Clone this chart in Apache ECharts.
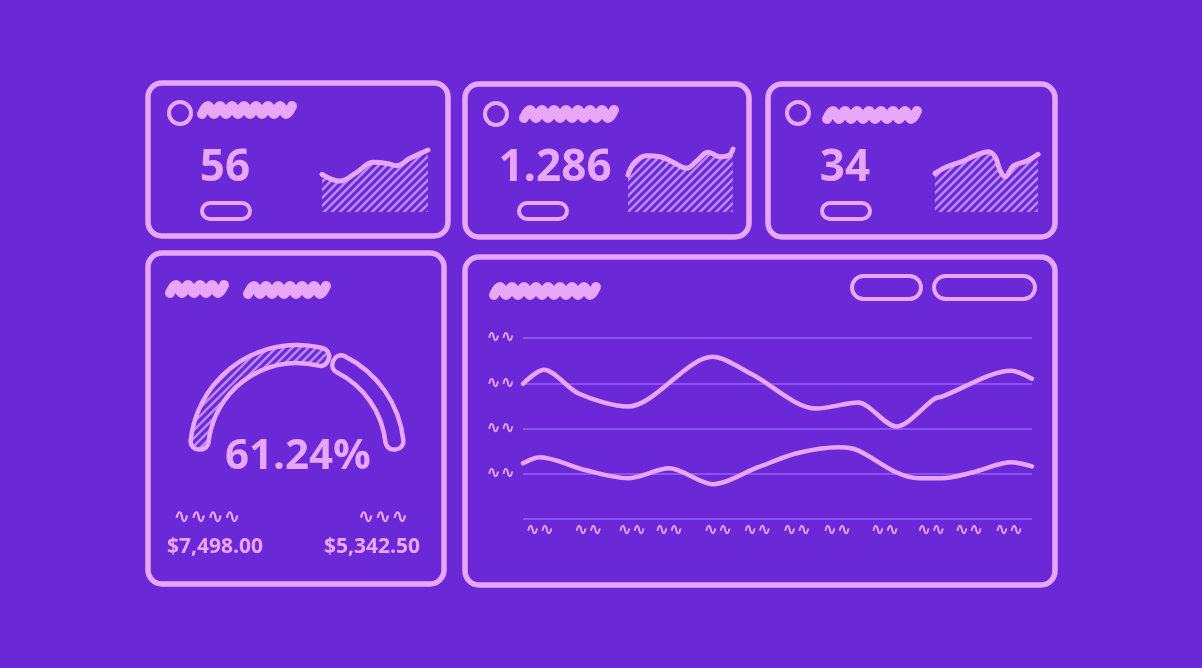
<!DOCTYPE html>
<html><head><meta charset="utf-8">
<script src="https://cdn.jsdelivr.net/npm/echarts@6/dist/echarts.min.js"></script>
<style>html,body{margin:0;padding:0;background:#6A28D6;}#c{width:1202px;height:668px;}</style>
</head><body><div id="c"></div>
<script>
// ---- data ----
const kpiValues = ['56', '1.286', '34'];
const spark1X = [0, 17, 32.7, 48.4, 62.5, 70.5, 83, 100];
const spark1Y = [58.9, 48.4, 62, 77.7, 75.5, 72.3, 83.9, 96.9];
const spark2X = [0, 6.4, 17.8, 30.5, 43.1, 55.9, 65.4, 76.5, 87.6, 95.5, 100];
const spark2Y = [57.8, 77.6, 88, 86.4, 77.6, 68.3, 79.7, 93.3, 86.4, 88, 98.4];
const spark3X = [0, 11.3, 27.5, 40.5, 51.8, 58.3, 63.1, 68, 76.1, 89.1, 100];
const spark3Y = [60.5, 70.8, 79.7, 89.1, 94.2, 86.4, 65.6, 55.2, 72.3, 79.7, 90.2];
const gaugeValue = 61.24;
const amounts = ['$7,498.00', '$5,342.50'];
const mainX1 = [0, 4.1, 11, 20.6, 37.3, 44.8, 57.6, 65.8, 73.3, 80.9, 82.3, 95.9, 100];
const mainY1 = [74.7, 82.4, 69.2, 62.1, 89.6, 80.2, 61.0, 64.3, 51.1, 66.5, 67.6, 81.9, 77.5];
const mainX2 = [0, 3.3, 12.4, 20.6, 28.7, 37.3, 46.2, 53.8, 62.1, 65.8, 73.3, 77.8, 82.3, 88.4, 95.9, 100];
const mainY2 = [30.8, 34.1, 26.9, 22.5, 28.0, 19.2, 28.6, 36.3, 39.6, 37.9, 25.8, 22.5, 22.5, 25.8, 31.3, 29.1];
const xTickPos = [3.3, 12.8, 21.4, 28.7, 38.3, 46, 53.8, 61.7, 71.1, 80.2, 87.6, 95.5];
const xTickLabels = ['∿∿', '∿∿', '∿∿', '∿∿', '∿∿', '∿∿', '∿∿', '∿∿', '∿∿', '∿∿', '∿∿', '∿∿'];
const yTickLabels = ['', '∿∿', '∿∿', '∿∿', '∿∿'];

// ---- style ----
const BG = '#6A28D6', PINK = '#E8A6F7', GRIDC = '#8A52F2';
function hatch() {
  const c = document.createElement('canvas'); c.width = c.height = 8;
  const g = c.getContext('2d'); g.strokeStyle = '#B98AF6'; g.lineWidth = 2.6; g.lineCap = 'square';
  g.beginPath(); g.moveTo(0, 8); g.lineTo(8, 0); g.moveTo(-2, 2); g.lineTo(2, -2); g.moveTo(6, 10); g.lineTo(10, 6); g.stroke();
  return c;
}
const pattern = { image: hatch(), repeat: 'repeat' };
const zip = (a, b) => a.map((v, i) => [v, b[i]]);

function scribble(x0, x1, y, amp, step) {
  const pts = []; let k = 0;
  for (let x = x0; x <= x1; x += step, k++) pts.push([x, y + (k % 2 ? -amp : amp)]);
  return { type: 'polyline', silent: true, shape: { points: pts, smooth: 0.4 },
    style: { stroke: PINK, lineWidth: 10, fill: null, lineJoin: 'round', lineCap: 'round' } };
}
function card(x, y, w, h) {
  return { type: 'rect', silent: true, shape: { x, y, width: w, height: h, r: 14 },
    style: { stroke: PINK, lineWidth: 5.5, fill: null } };
}
function pill(x, y, w, h) {
  return { type: 'rect', silent: true, shape: { x, y, width: w, height: h, r: h / 2 },
    style: { stroke: PINK, lineWidth: 4, fill: null } };
}
function circ(cx, cy) {
  return { type: 'circle', silent: true, shape: { cx, cy, r: 11 }, style: { stroke: PINK, lineWidth: 4, fill: null } };
}
function txt(t, x, y, size, weight, family) {
  return { type: 'text', silent: true, x, y,
    style: { text: t, fill: PINK, fontSize: size, fontWeight: weight || 'bold', fontFamily: family || '"Open Sans"',
      align: 'center', verticalAlign: 'middle', textAlign: 'center', textVerticalAlign: 'middle' } };
}

const graphic = [
  card(148, 83, 300, 153), card(465, 84, 284, 153), card(768, 84, 287, 153),
  card(148, 253, 296, 331), card(465, 257, 590, 328),
  circ(180, 113), circ(496, 114), circ(798, 113),
  scribble(202, 296, 110, 4, 6), scribble(524, 615, 114, 4, 6), scribble(827, 921, 115, 4, 6),
  scribble(170, 224, 289, 4, 6), scribble(248, 331, 290, 4, 6), scribble(494, 598, 291, 4, 6),
  pill(202, 203, 48, 16), pill(519, 203, 48, 16), pill(822, 203, 48, 16),
  pill(852, 276, 69, 23), pill(934, 276, 101, 23),
  txt(kpiValues[0], 225, 168, 44), txt(kpiValues[1], 555, 168, 44), txt(kpiValues[2], 845, 168, 44),
  txt(gaugeValue.toFixed(2) + '%', 298, 457, 42),
  txt(amounts[0], 215, 547, 21), txt(amounts[1], 372, 547, 21),
  txt('∿∿∿∿', 207, 518, 20, 'bold', 'DejaVu Sans'), txt('∿∿∿', 383, 518, 20, 'bold', 'DejaVu Sans')
];

const sparkGrids = [
  { left: 322, width: 106, top: 148, height: 64 },
  { left: 628, width: 105, top: 148, height: 64 },
  { left: 935, width: 103, top: 148, height: 64 }
];
const grids = sparkGrids.concat([{ left: 523, width: 509, top: 338, height: 181 }]);
const xAxes = [0, 1, 2].map(i => ({ type: 'value', gridIndex: i, min: 0, max: 100, show: false }));
const yAxes = [0, 1, 2].map(i => ({ type: 'value', gridIndex: i, min: 0, max: 100, show: false }));
xAxes.push({ type: 'value', gridIndex: 3, min: 0, max: 100,
  axisLine: { show: false }, axisTick: { show: false }, splitLine: { show: false },
  axisLabel: { customValues: xTickPos, color: PINK, fontSize: 17, fontWeight: 'bold', fontFamily: 'DejaVu Sans', margin: 3,
    formatter: (v) => { const i = xTickPos.indexOf(v); return i >= 0 ? xTickLabels[i] : ''; } } });
yAxes.push({ type: 'value', gridIndex: 3, min: 0, max: 100, interval: 25,
  axisLine: { show: false }, axisTick: { show: false },
  splitLine: { lineStyle: { color: GRIDC, width: 2 } },
  axisLabel: { color: PINK, fontSize: 17, fontWeight: 'bold', fontFamily: 'DejaVu Sans', margin: 8,
    formatter: (v) => yTickLabels[Math.round(v / 25)] } });

const sparkSeries = [[spark1X, spark1Y], [spark2X, spark2Y], [spark3X, spark3Y]].map((d, i) => ({
  type: 'line', xAxisIndex: i, yAxisIndex: i, data: zip(d[0], d[1]), smooth: 0.4, showSymbol: false, silent: true,
  lineStyle: { color: PINK, width: 5, cap: 'round' },
  areaStyle: { color: pattern, opacity: 1, origin: 'start' }
}));
const mainSeries = [[mainX1, mainY1], [mainX2, mainY2]].map(d => ({
  type: 'line', xAxisIndex: 3, yAxisIndex: 3, data: zip(d[0], d[1]), smooth: 0.3, showSymbol: false, silent: true,
  lineStyle: { color: PINK, width: 4.5, cap: 'round', join: 'round' }
}));
const gauge = {
  type: 'pie', center: [297, 452], radius: [89, 107], startAngle: 180, clockwise: true, padAngle: 3,
  silent: true, label: { show: false }, labelLine: { show: false }, emphasis: { disabled: true },
  data: [
    { value: gaugeValue, itemStyle: { color: pattern, borderColor: PINK, borderWidth: 4.5, borderRadius: 8 } },
    { value: 100 - gaugeValue, itemStyle: { color: BG, borderColor: PINK, borderWidth: 4.5, borderRadius: 8 } },
    { value: 100, itemStyle: { color: 'rgba(0,0,0,0)', borderWidth: 0 } }
  ]
};

const chart = echarts.init(document.getElementById('c'));
chart.setOption({
  backgroundColor: BG, animation: false,
  grid: grids, xAxis: xAxes, yAxis: yAxes,
  series: sparkSeries.concat(mainSeries, [gauge]),
  graphic: graphic
});
</script></body></html>
